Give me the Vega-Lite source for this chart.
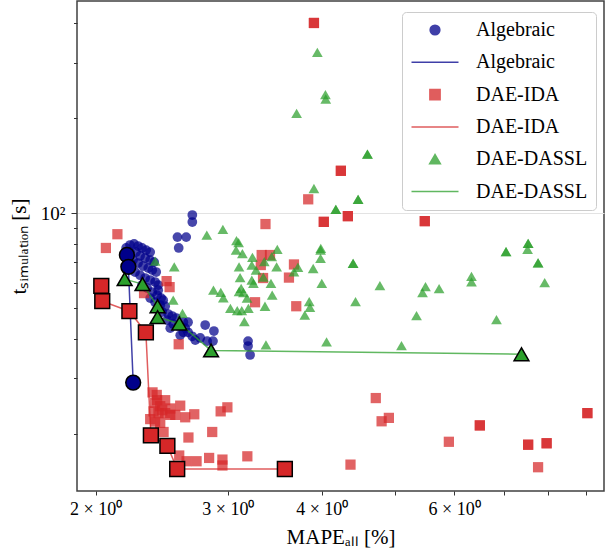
{
  "$schema": "https://vega.github.io/schema/vega-lite/v6.json",
  "width": 527,
  "height": 490,
  "autosize": "none",
  "padding": {"left": 77, "top": 1, "right": 1, "bottom": 63},
  "background": "white",
  "config": {"font": "Liberation Serif", "view": {"stroke": "#404040", "strokeWidth": 1.5}},
  "datasets": {
    "scatter": [
      {"key":"a1","mape":2.69,"t":98.8},{"key":"a1","mape":2.69,"t":93.9},{"key":"a1","mape":2.57,"t":84.1},{"key":"a1","mape":2.64,"t":84.1},{"key":"a1","mape":2.58,"t":77.7},
      {"key":"a1","mape":2.196,"t":77.7},{"key":"a1","mape":2.222,"t":79.4},{"key":"a1","mape":2.25,"t":80.0},{"key":"a1","mape":2.278,"t":78.8},{"key":"a1","mape":2.306,"t":77.7},{"key":"a1","mape":2.335,"t":76.5},{"key":"a1","mape":2.364,"t":75.4},{"key":"a1","mape":2.222,"t":75.4},{"key":"a1","mape":2.264,"t":75.4},{"key":"a1","mape":2.292,"t":73.3},{"key":"a1","mape":2.328,"t":72.2},{"key":"a1","mape":2.364,"t":71.1},{"key":"a1","mape":2.393,"t":70.1},{"key":"a1","mape":2.243,"t":71.1},{"key":"a1","mape":2.278,"t":69.6},{"key":"a1","mape":2.313,"t":68.1},{"key":"a1","mape":2.35,"t":67.1},{"key":"a1","mape":2.379,"t":66.1},{"key":"a1","mape":2.408,"t":65.2},{"key":"a1","mape":2.257,"t":65.2},{"key":"a1","mape":2.292,"t":63.7},{"key":"a1","mape":2.328,"t":62.4},{"key":"a1","mape":2.364,"t":61.5},{"key":"a1","mape":2.4,"t":60.6},{"key":"a1","mape":2.423,"t":59.3},{"key":"a1","mape":2.306,"t":59.3},{"key":"a1","mape":2.342,"t":58.0},{"key":"a1","mape":2.379,"t":56.3},{"key":"a1","mape":2.415,"t":55.1},{"key":"a1","mape":2.445,"t":53.9},{"key":"a1","mape":2.21,"t":72.7},{"key":"a1","mape":2.23,"t":69.1},
      {"key":"a1","mape":2.364,"t":53.9},{"key":"a1","mape":2.4,"t":52.3},{"key":"a1","mape":2.438,"t":51.2},{"key":"a1","mape":2.475,"t":50.8},{"key":"a1","mape":2.453,"t":48.7},{"key":"a1","mape":2.498,"t":48.0},{"key":"a1","mape":2.529,"t":47.3},{"key":"a1","mape":2.561,"t":46.6},{"key":"a1","mape":2.49,"t":45.9},{"key":"a1","mape":2.537,"t":44.6},{"key":"a1","mape":2.577,"t":44.0},{"key":"a1","mape":2.617,"t":45.2},{"key":"a1","mape":2.632,"t":43.3},{"key":"a1","mape":2.514,"t":43.3},{"key":"a1","mape":2.655,"t":42.0},{"key":"a1","mape":2.689,"t":40.8},{"key":"a1","mape":2.592,"t":41.1},{"key":"a1","mape":2.714,"t":39.7},{"key":"a1","mape":2.756,"t":40.3},{"key":"a1","mape":2.423,"t":57.1},{"key":"a1","mape":2.46,"t":53.1},{"key":"a1","mape":2.655,"t":45.2},{"key":"a1","mape":2.617,"t":42.0},
      {"key":"a1","mape":2.798,"t":44.3},{"key":"a1","mape":2.874,"t":42.4},{"key":"a1","mape":2.815,"t":39.4},{"key":"a1","mape":2.866,"t":39.4},{"key":"a1","mape":3.191,"t":39.4},{"key":"a1","mape":3.191,"t":38.0},{"key":"a1","mape":3.211,"t":35.6},
      {"key":"b1","mape":2.064,"t":77.7},{"key":"b1","mape":2.138,"t":85.9},{"key":"b1","mape":3.366,"t":92.5},{"key":"b1","mape":2.486,"t":61.0},{"key":"b1","mape":2.509,"t":58.4},{"key":"b1","mape":2.32,"t":55.9},{"key":"b1","mape":3.327,"t":73.8},{"key":"b1","mape":3.413,"t":73.8},{"key":"b1","mape":3.318,"t":68.6},{"key":"b1","mape":3.341,"t":62.4},{"key":"b1","mape":3.26,"t":52.3},{"key":"b1","mape":4.025,"t":94.0},{"key":"b1","mape":4.025,"t":94.0},{"key":"b1","mape":4.333,"t":98.0},{"key":"b1","mape":4.333,"t":98.0},{"key":"b1","mape":3.673,"t":68.9},{"key":"b1","mape":3.617,"t":62.6},{"key":"b1","mape":3.699,"t":50.8},{"key":"b1","mape":3.905,"t":401},{"key":"b1","mape":3.905,"t":401},{"key":"b1","mape":4.241,"t":136.4},{"key":"b1","mape":4.241,"t":136.4},{"key":"b1","mape":3.837,"t":110.8},{"key":"b1","mape":5.485,"t":94.5},{"key":"b1","mape":5.485,"t":94.5},{"key":"b1","mape":2.58,"t":38.5},
      {"key":"b1","mape":2.412,"t":26.6},{"key":"b1","mape":2.4,"t":25.1},{"key":"b1","mape":2.438,"t":24.5},{"key":"b1","mape":2.388,"t":23.6},{"key":"b1","mape":2.425,"t":23.3},{"key":"b1","mape":2.475,"t":23.3},{"key":"b1","mape":2.514,"t":23.0},{"key":"b1","mape":2.553,"t":23.0},{"key":"b1","mape":2.592,"t":24.6},{"key":"b1","mape":2.632,"t":22.6},{"key":"b1","mape":2.706,"t":23.1},{"key":"b1","mape":2.934,"t":23.6},{"key":"b1","mape":2.995,"t":24.3},{"key":"b1","mape":2.4,"t":21.9},{"key":"b1","mape":2.438,"t":21.7},{"key":"b1","mape":2.463,"t":20.3},{"key":"b1","mape":2.658,"t":19.5},{"key":"b1","mape":2.859,"t":20.3},{"key":"b1","mape":2.584,"t":17.1},{"key":"b1","mape":2.643,"t":16.4},{"key":"b1","mape":2.725,"t":16.4},{"key":"b1","mape":2.832,"t":16.8},{"key":"b1","mape":2.95,"t":16.6},{"key":"b1","mape":2.95,"t":15.9},{"key":"b1","mape":3.184,"t":17.0},{"key":"b1","mape":2.381,"t":27.1},{"key":"b1","mape":2.475,"t":25.6},{"key":"b1","mape":2.514,"t":24.1},{"key":"b1","mape":2.364,"t":22.3},{"key":"b1","mape":2.415,"t":25.6},{"key":"b1","mape":2.453,"t":23.8},
      {"key":"b1","mape":4.72,"t":26.0},{"key":"b1","mape":4.805,"t":21.95},{"key":"b1","mape":4.913,"t":22.5},{"key":"b1","mape":6.493,"t":21.3},{"key":"b1","mape":6.493,"t":21.3},{"key":"b1","mape":5.905,"t":18.9},{"key":"b1","mape":7.529,"t":18.5},{"key":"b1","mape":7.529,"t":18.5},{"key":"b1","mape":7.968,"t":18.7},{"key":"b1","mape":7.968,"t":18.7},{"key":"b1","mape":7.762,"t":15.7},{"key":"b1","mape":9.028,"t":23.3},{"key":"b1","mape":9.028,"t":23.3},{"key":"b1","mape":4.368,"t":16.0},
      {"key":"c1","mape":3.946,"t":323.8},{"key":"c1","mape":4.045,"t":237.6},{"key":"c1","mape":4.049,"t":230.3},{"key":"c1","mape":3.703,"t":207.5},{"key":"c1","mape":4.601,"t":154.0},{"key":"c1","mape":4.601,"t":154.0},{"key":"c1","mape":3.905,"t":119.9},{"key":"c1","mape":4.471,"t":110.8},{"key":"c1","mape":4.471,"t":110.8},{"key":"c1","mape":4.176,"t":103.0},{"key":"c1","mape":4.176,"t":103.0},
      {"key":"c1","mape":3.988,"t":77.5},{"key":"c1","mape":3.985,"t":72.0},{"key":"c1","mape":3.896,"t":66.9},{"key":"c1","mape":4.403,"t":69.4},{"key":"c1","mape":4.403,"t":69.4},{"key":"c1","mape":4.78,"t":59.0},{"key":"c1","mape":4.436,"t":52.5},{"key":"c1","mape":5.497,"t":58.6},{"key":"c1","mape":5.447,"t":56.1},{"key":"c1","mape":5.731,"t":57.8},{"key":"c1","mape":5.348,"t":47.4},{"key":"c1","mape":5.107,"t":38.1},{"key":"c1","mape":6.329,"t":63.2},{"key":"c1","mape":6.329,"t":60.7},{"key":"c1","mape":7.036,"t":75.6},{"key":"c1","mape":7.036,"t":75.6},{"key":"c1","mape":7.529,"t":80.4},{"key":"c1","mape":7.529,"t":80.4},{"key":"c1","mape":7.516,"t":76.9},{"key":"c1","mape":7.762,"t":69.7},{"key":"c1","mape":7.762,"t":69.7},{"key":"c1","mape":7.921,"t":60.3},{"key":"c1","mape":6.833,"t":46.1},{"key":"c1","mape":3.797,"t":47.6},{"key":"c1","mape":3.849,"t":52.5},{"key":"c1","mape":4.059,"t":39.2},{"key":"c1","mape":3.371,"t":38.3},{"key":"c1","mape":3.718,"t":67.5},
      {"key":"c1","mape":2.812,"t":85.3},{"key":"c1","mape":2.954,"t":89.0},{"key":"c1","mape":3.08,"t":82.0},{"key":"c1","mape":3.1,"t":80.8},{"key":"c1","mape":3.076,"t":76.5},{"key":"c1","mape":3.136,"t":74.6},{"key":"c1","mape":3.234,"t":72.6},{"key":"c1","mape":3.49,"t":76.9},{"key":"c1","mape":3.354,"t":70.3},{"key":"c1","mape":3.431,"t":72.9},{"key":"c1","mape":3.104,"t":67.7},{"key":"c1","mape":3.228,"t":68.6},{"key":"c1","mape":3.27,"t":66.1},{"key":"c1","mape":3.483,"t":67.7},{"key":"c1","mape":3.673,"t":65.3},{"key":"c1","mape":3.985,"t":76.5},
      {"key":"c1","mape":3.114,"t":62.6},{"key":"c1","mape":3.228,"t":61.5},{"key":"c1","mape":3.344,"t":62.8},{"key":"c1","mape":3.244,"t":60.0},{"key":"c1","mape":3.423,"t":60.0},{"key":"c1","mape":3.124,"t":57.9},{"key":"c1","mape":3.104,"t":56.5},{"key":"c1","mape":2.87,"t":57.1},{"key":"c1","mape":2.935,"t":56.2},{"key":"c1","mape":2.958,"t":54.0},{"key":"c1","mape":3.146,"t":56.1},{"key":"c1","mape":3.181,"t":53.9},{"key":"c1","mape":3.436,"t":55.1},{"key":"c1","mape":3.361,"t":50.8},{"key":"c1","mape":3.023,"t":50.0},{"key":"c1","mape":3.087,"t":49.2},{"key":"c1","mape":3.13,"t":49.2},{"key":"c1","mape":3.194,"t":50.0},{"key":"c1","mape":4.0,"t":60.0},{"key":"c1","mape":3.857,"t":50.4},{"key":"c1","mape":3.155,"t":45.4},
      {"key":"c1","mape":2.545,"t":67.7},{"key":"c1","mape":2.4,"t":70.6},{"key":"c1","mape":2.537,"t":53.1},{"key":"c1","mape":2.61,"t":48.2}
    ],
    "front": [
      {"method":"Algebraic","key":"a1","lkey":"a2","ord":1,"mape":2.201,"t":73.8},
      {"method":"Algebraic","key":"a1","lkey":"a2","ord":2,"mape":2.211,"t":67.7},
      {"method":"Algebraic","key":"a1","lkey":"a2","ord":3,"mape":2.244,"t":29.1},
      {"method":"DAE-IDA","key":"b1","lkey":"b2","ord":1,"mape":2.035,"t":58.9},
      {"method":"DAE-IDA","key":"b1","lkey":"b2","ord":2,"mape":2.041,"t":52.7},
      {"method":"DAE-IDA","key":"b1","lkey":"b2","ord":3,"mape":2.218,"t":49.0},
      {"method":"DAE-IDA","key":"b1","lkey":"b2","ord":4,"mape":2.333,"t":42.0},
      {"method":"DAE-IDA","key":"b1","lkey":"b2","ord":5,"mape":2.369,"t":19.8},
      {"method":"DAE-IDA","key":"b1","lkey":"b2","ord":6,"mape":2.492,"t":18.35},
      {"method":"DAE-IDA","key":"b1","lkey":"b2","ord":7,"mape":2.568,"t":15.5},
      {"method":"DAE-IDA","key":"b1","lkey":"b2","ord":8,"mape":3.572,"t":15.5},
      {"method":"DAE-DASSL","key":"c1","lkey":"c2","ord":1,"mape":2.186,"t":61.9},
      {"method":"DAE-DASSL","key":"c1","lkey":"c2","ord":2,"mape":2.309,"t":59.7},
      {"method":"DAE-DASSL","key":"c1","lkey":"c2","ord":3,"mape":2.418,"t":50.8},
      {"method":"DAE-DASSL","key":"c1","lkey":"c2","ord":4,"mape":2.418,"t":46.9},
      {"method":"DAE-DASSL","key":"c1","lkey":"c2","ord":5,"mape":2.585,"t":44.8},
      {"method":"DAE-DASSL","key":"c1","lkey":"c2","ord":6,"mape":2.849,"t":36.8},
      {"method":"DAE-DASSL","key":"c1","lkey":"c2","ord":7,"mape":7.377,"t":35.8}
    ]
  },
  "encoding": {
    "x": {"field": "mape", "type": "quantitative",
      "scale": {"type": "log", "domain": [1.889, 9.5], "nice": false},
      "axis": {"title": "MAPEₐₗₗ [%]", "values": [2,3,4,5,6,7,8,9],
        "labelExpr": "datum.value == 2 ? '2 × 10⁰' : datum.value == 3 ? '3 × 10⁰' : datum.value == 4 ? '4 × 10⁰' : datum.value == 6 ? '6 × 10⁰' : ''",
        "grid": false, "domain": false, "tickSize": 4, "tickColor": "#333333", "tickWidth": 1,
        "labelFontSize": 18, "labelColor": "black", "labelPadding": 5, "labelOverlap": false, "labelFlush": false,
        "titleFontSize": 21, "titleFontWeight": "normal", "titleColor": "black", "titlePadding": 8}},
    "y": {"field": "t", "type": "quantitative",
      "scale": {"type": "log", "domain": [13.2, 470.7], "nice": false},
      "axis": {"title": "tₛᵢₘᵤₗₐₜᵢₒₙ [s]", "values": [20,30,40,50,60,70,80,90,100,200,300,400],
        "labelExpr": "datum.value == 100 ? '10²' : ''",
        "grid": true, "gridColor": "#e3e3e3", "gridWidth": 1,
        "gridOpacity": {"condition": {"test": "datum.value == 100", "value": 1}, "value": 0},
        "tickSize": {"condition": {"test": "datum.value == 100", "value": 6}, "value": 3.5},
        "domain": false, "tickColor": "#333333", "tickWidth": 1,
        "labelFontSize": 19, "labelColor": "black", "labelPadding": 6, "labelOverlap": false, "labelFlush": false,
        "titleFontSize": 21, "titleFontWeight": "normal", "titleColor": "black", "titlePadding": 11}}
  },
  "layer": [
    {"data": {"name": "scatter"},
     "mark": {"type": "point", "filled": true, "opacity": 0.72, "strokeWidth": 0},
     "encoding": {
       "color": {"field": "key", "type": "nominal",
         "scale": {"domain": ["a1","a2","b1","b2","c1","c2"], "range": ["#00008b","#00008b","#d62728","#d62728","#2ca02c","#2ca02c"]},
         "legend": {"title": null, "orient": "none", "legendX": 325, "legendY": 11, "padding": 8, "rowPadding": 12.3,
           "labelFontSize": 20, "labelFont": "Liberation Serif", "labelColor": "black", "labelOffset": 31,
           "symbolOffset": 15,
           "fillColor": "rgba(255,255,255,0.85)", "strokeColor": "#cccccc", "cornerRadius": 4,
           "symbolOpacity": 0.75, "symbolStrokeWidth": 1.5,
           "labelExpr": "datum.label == 'a1' || datum.label == 'a2' ? 'Algebraic' : datum.label == 'b1' || datum.label == 'b2' ? 'DAE-IDA' : 'DAE-DASSL'",
           "encode": {"symbols": {"update": {"stroke": {"scale": "color", "field": "value"}, "strokeWidth": {"value": 1.5}}}}}},
       "shape": {"field": "key", "type": "nominal",
         "scale": {"domain": ["a1","a2","b1","b2","c1","c2"], "range": ["circle","M-4.7,0H4.7","square","M-4.7,0H4.7","triangle-up","M-4.7,0H4.7"]}},
       "size": {"field": "key", "type": "nominal",
         "scale": {"type": "ordinal", "domain": ["a1","a2","b1","b2","c1","c2"], "range": [95,100,105,100,115,100]}}
     }},
    {"data": {"name": "front"},
     "mark": {"type": "line", "strokeWidth": 1.5, "opacity": 0.75},
     "encoding": {
       "color": {"field": "lkey", "type": "nominal", "legend": null},
       "detail": {"field": "method"},
       "order": {"field": "ord", "type": "quantitative"}
     }},
    {"data": {"name": "front"},
     "mark": {"type": "point", "filled": true, "opacity": 1, "stroke": "black", "strokeWidth": 1.5, "size": 220},
     "encoding": {
       "color": {"field": "key", "type": "nominal", "legend": null},
       "shape": {"field": "key", "type": "nominal", "legend": null}
     }}
  ]
}
